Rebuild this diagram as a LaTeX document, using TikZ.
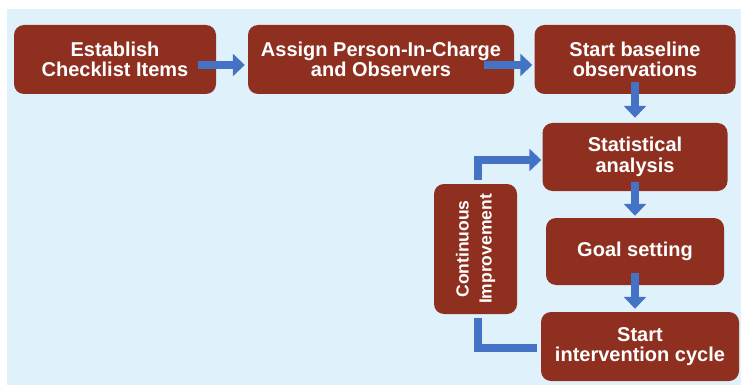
\documentclass[tikz,border=0pt]{standalone}
\usepackage{fontspec}
\setmainfont{Liberation Sans}
\usetikzlibrary{arrows.meta}

\definecolor{boxred}{RGB}{142,47,31}
\definecolor{flowblue}{RGB}{68,114,196}
\definecolor{panelblue}{RGB}{223,241,251}

\begin{document}
\begin{tikzpicture}[
    x=1pt, y=-1pt,
    stepbox/.style={rectangle, rounded corners=10pt, fill=boxred, text=white, align=center, inner sep=0pt, font=\fontsize{20}{20.5}\selectfont\bfseries},
    loopbox/.style={stepbox, rotate=90, font=\fontsize{17.5}{23}\selectfont\bfseries},
    flow/.style={-{Triangle[width=22pt,length=12pt]}, line width=8pt, draw=flowblue},
    flowline/.style={line width=8pt, draw=flowblue}
]

\useasboundingbox (0,0) rectangle (741,385);
\fill[panelblue] (7,9) rectangle (741,385);

\node[stepbox, minimum width=202pt, minimum height=69pt] (checklist) at (115,59.5) {Establish\\Checklist Items};
\node[stepbox, minimum width=266pt, minimum height=69pt] (assign) at (381,59.5) {Assign Person-In-Charge\\and Observers};
\node[stepbox, minimum width=201pt, minimum height=69pt] (baseline) at (635,59.5) {Start baseline\\observations};

\node[stepbox, minimum width=185pt, minimum height=68pt] (stat) at (635,157) {Statistical\\analysis};
\node[stepbox, minimum width=178pt, minimum height=67pt] (goal) at (635,251.5) {Goal setting};
\node[stepbox, minimum width=198pt, minimum height=69pt] (start) at (640,346.5) {Start\\intervention cycle};

\node[loopbox, minimum width=130pt, minimum height=83pt] (improve) at (475.5,249) {Continuous\\Improvement};

\draw[flow] ([shift={(-18pt,-5.5pt)}]checklist.east) -- ([shift={(-3pt,-5.5pt)}]assign.west);
\draw[flow] ([shift={(-30pt,-5.5pt)}]assign.east) -- ([shift={(-2pt,-5.5pt)}]baseline.west);
\draw[flow] ([yshift=12pt]baseline.south) -- ([yshift=5pt]stat.north);
\draw[flow] ([yshift=9pt]stat.south) -- ([yshift=2pt]goal.north);
\draw[flow] ([yshift=12pt]goal.south) -- ([yshift=3pt]goal.south |- start.north);

\draw[flow] ([shift={(2.5pt,4pt)}]improve.east) |- ([shift={(-1pt,-3pt)}]stat.west);
\draw[flowline] ([shift={(2.5pt,-4pt)}]improve.west) |- ([shift={(-4pt,-1.5pt)}]start.west);

\end{tikzpicture}
\end{document}
